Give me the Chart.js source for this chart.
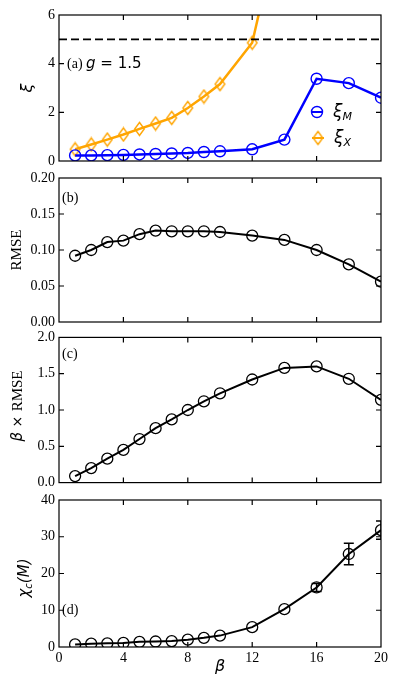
<!DOCTYPE html>
<html>
<head>
<meta charset="utf-8">
<script src="https://cdn.jsdelivr.net/npm/chart.js@4.4.0/dist/chart.umd.min.js"></script>
<style>
  html, body { margin: 0; padding: 0; background: #fff; }
  body { width: 398px; height: 685px; position: relative; overflow: hidden; }
  canvas { position: absolute; left: 0; }
</style>
</head>
<body>
<canvas id="panelA" width="398" height="175" style="top:0px"></canvas>
<canvas id="panelB" width="398" height="170" style="top:165px"></canvas>
<canvas id="panelC" width="398" height="170" style="top:325px"></canvas>
<canvas id="panelD" width="398" height="200" style="top:485px"></canvas>
<script>
// data
const betas = [1, 2, 3, 4, 5, 6, 7, 8, 9, 10, 12, 14, 16, 18, 20];
const xiM = [0.23, 0.23, 0.24, 0.25, 0.27, 0.29, 0.31, 0.33, 0.37, 0.40, 0.48, 0.88, 3.38, 3.20, 2.60];
const xiXBetas = [1, 2, 3, 4, 5, 6, 7, 8, 9, 10, 12, 14];
const xiX = [0.48, 0.68, 0.88, 1.09, 1.32, 1.54, 1.77, 2.18, 2.65, 3.16, 4.86, 10.6];
const xiLimit = 5;
const rmse = [0.092, 0.100, 0.111, 0.113, 0.122, 0.127, 0.126, 0.126, 0.126, 0.125, 0.120, 0.114, 0.100, 0.080, 0.056];
const betaRmse = [0.09, 0.20, 0.33, 0.45, 0.60, 0.75, 0.87, 1.00, 1.12, 1.23, 1.42, 1.58, 1.60, 1.43, 1.14];
const chiC = [0.7, 0.9, 1.0, 1.1, 1.4, 1.5, 1.6, 2.0, 2.5, 3.1, 5.4, 10.3, 16.2, 25.3, 31.8];
const chiErr = [0, 0, 0, 0, 0, 0, 0, 0, 0, 0, 0, 0, 1.1, 2.9, 2.5];
const xTicks = [0, 4, 8, 12, 16, 20];

const SERIF = 'Liberation Serif';
const SANS = 'DejaVu Sans';

Chart.defaults.font.family = SERIF;
Chart.defaults.font.size = 14;
Chart.defaults.color = '#000';

const pts = (xs, ys) => xs.map((x, i) => ({ x: x, y: ys[i] }));

// thin diamond marker like matplotlib 'd'
function diamond(color) {
    const c = document.createElement('canvas');
    c.width = 13; c.height = 16;
    const g = c.getContext('2d');
    g.strokeStyle = color;
    g.lineWidth = 1.4;
    g.beginPath();
    g.moveTo(6.5, 1.5); g.lineTo(11.3, 8); g.lineTo(6.5, 14.5); g.lineTo(1.7, 8);
    g.closePath();
    g.stroke();
    return c;
}
const orangeDiamond = diamond('#ffa500');

// text made of several runs (fonts / sub-scripts)
function richText(ctx, parts, x, y, opt) {
    opt = opt || {};
    ctx.save();
    ctx.translate(x, y);
    if (opt.rotate) ctx.rotate(-Math.PI / 2);
    ctx.fillStyle = '#000';
    ctx.textBaseline = 'alphabetic';
    let w = 0;
    parts.forEach(p => { ctx.font = p.font; w += ctx.measureText(p.text).width; });
    let cx = opt.center ? -w / 2 : 0;
    parts.forEach(p => {
        ctx.font = p.font;
        ctx.fillText(p.text, cx, p.dy || 0);
        cx += ctx.measureText(p.text).width;
    });
    ctx.restore();
}

const decorPlugin = {
    id: 'decor',
    afterDatasetsDraw(chart) {
        const { ctx, chartArea: a, scales: { x, y } } = chart;
        // error bars
        ctx.save();
        ctx.beginPath();
        ctx.rect(a.left, a.top, a.width, a.height);
        ctx.clip();
        chart.data.datasets.forEach(ds => {
            if (!ds.errors) return;
            ctx.strokeStyle = ds.borderColor;
            ctx.lineWidth = 1.5;
            ds.data.forEach((p, i) => {
                const e = ds.errors[i];
                if (!e) return;
                const px = x.getPixelForValue(p.x);
                const top = y.getPixelForValue(p.y + e);
                const bot = y.getPixelForValue(p.y - e);
                ctx.beginPath();
                ctx.moveTo(px, top); ctx.lineTo(px, bot);
                ctx.moveTo(px - 5, top); ctx.lineTo(px + 5, top);
                ctx.moveTo(px - 5, bot); ctx.lineTo(px + 5, bot);
                ctx.stroke();
            });
        });
        ctx.restore();
    },
    afterDraw(chart, args, opts) {
        const { ctx, chartArea: a, scales: { x, y } } = chart;
        const off = chart.canvas.offsetTop;   // texts are given in page coordinates
        ctx.save();
        ctx.strokeStyle = '#000';
        ctx.lineWidth = 1.2;
        ctx.strokeRect(a.left, a.top, a.width, a.height);
        // inward ticks on all four sides
        ctx.beginPath();
        x.ticks.forEach(t => {
            const px = x.getPixelForValue(t.value);
            if (px <= a.left + 1 || px >= a.right - 1) return;
            ctx.moveTo(px, a.bottom); ctx.lineTo(px, a.bottom - 5);
            ctx.moveTo(px, a.top); ctx.lineTo(px, a.top + 5);
        });
        y.ticks.forEach(t => {
            const py = y.getPixelForValue(t.value);
            if (py <= a.top + 1 || py >= a.bottom - 1) return;
            ctx.moveTo(a.left, py); ctx.lineTo(a.left + 5, py);
            ctx.moveTo(a.right, py); ctx.lineTo(a.right - 5, py);
        });
        ctx.stroke();

        // legend
        (opts.legend || []).forEach(item => {
            const ds = chart.data.datasets[item.dataset];
            const ly = item.y - off;
            ctx.strokeStyle = ds.borderColor;
            ctx.lineWidth = 2;
            ctx.beginPath();
            ctx.moveTo(item.x - 6, ly); ctx.lineTo(item.x + 6, ly);
            ctx.stroke();
            if (ds.pointStyle && typeof ds.pointStyle === 'object') {
                ctx.drawImage(ds.pointStyle, item.x - ds.pointStyle.width / 2, ly - ds.pointStyle.height / 2);
            } else {
                ctx.lineWidth = ds.pointBorderWidth;
                ctx.beginPath();
                ctx.arc(item.x, ly, ds.pointRadius, 0, Math.PI * 2);
                ctx.stroke();
            }
            richText(ctx, item.parts, item.x + 16, ly + 5);
        });
        ctx.restore();

        (opts.texts || []).forEach(t => richText(ctx, t.parts, t.x, t.y - off, t));
    }
};

function makePanel(id, cfg) {
    return new Chart(document.getElementById(id), {
        type: 'line',
        data: { datasets: cfg.datasets },
        options: {
            responsive: false,
            animation: false,
            devicePixelRatio: 1,
            layout: { padding: { top: cfg.padTop, right: 17, left: 0, bottom: 0 } },
            plugins: {
                legend: { display: false },
                tooltip: { enabled: false },
                decor: cfg.decor
            },
            scales: {
                x: {
                    type: 'linear', min: 0, max: 20,
                    afterBuildTicks: s => { s.ticks = xTicks.map(v => ({ value: v })); },
                    ticks: { display: !!cfg.showX, padding: 3, maxRotation: 0, autoSkip: false, font: { size: 14 } },
                    grid: { display: false, drawTicks: false },
                    border: { display: false },
                    afterFit: s => { s.height = cfg.xHeight; }
                },
                y: {
                    min: cfg.yMin, max: cfg.yMax,
                    afterBuildTicks: s => { s.ticks = cfg.yTicks.map(v => ({ value: v })); },
                    ticks: { padding: 4, font: { size: 14 }, callback: cfg.yFmt },
                    grid: { display: false, drawTicks: false },
                    border: { display: false },
                    afterFit: s => { s.width = 59; }
                }
            }
        },
        plugins: [decorPlugin]
    });
}

function blackSeries(ys, extra) {
    return Object.assign({
        data: pts(betas, ys),
        borderColor: '#000',
        borderWidth: 2,
        pointRadius: 5.5,
        pointBorderWidth: 1.3,
        pointBorderColor: '#000',
        pointBackgroundColor: 'rgba(0,0,0,0)',
        tension: 0,
        clip: 0
    }, extra || {});
}

// (a) correlation lengths
makePanel('panelA', {
    padTop: 15, xHeight: 14,
    yMin: 0, yMax: 6, yTicks: [0, 2, 4, 6], yFmt: v => String(v),
    datasets: [
        {
            data: [{ x: 0, y: xiLimit }, { x: 20, y: xiLimit }],
            borderColor: '#000', borderWidth: 1.8, borderDash: [8, 4],
            pointRadius: 0, clip: 0
        },
        {
            data: pts(betas, xiM),
            borderColor: '#0000ff', borderWidth: 2.5,
            pointRadius: 5.5, pointBorderWidth: 1.4,
            pointBorderColor: '#0000ff', pointBackgroundColor: 'rgba(0,0,0,0)',
            tension: 0, clip: 0
        },
        {
            data: pts(xiXBetas, xiX),
            borderColor: '#ffa500', borderWidth: 2.5,
            pointStyle: orangeDiamond, pointRadius: 5,
            tension: 0, clip: 0
        }
    ],
    decor: {
        legend: [
            { dataset: 1, x: 317, y: 112, parts: [
                { text: 'ξ', font: 'italic 17px ' + SANS },
                { text: 'M', font: 'italic 11px ' + SANS, dy: 3 }] },
            { dataset: 2, x: 318, y: 138, parts: [
                { text: 'ξ', font: 'italic 17px ' + SANS },
                { text: 'X', font: 'italic 11px ' + SANS, dy: 3 }] }
        ],
        texts: [
            { x: 67, y: 68, parts: [
                { text: '(a) ', font: '14px ' + SERIF },
                { text: 'g', font: 'italic 15px ' + SANS },
                { text: ' = 1.5', font: '15px ' + SANS }] },
            { x: 28, y: 88, rotate: true, center: true, parts: [
                { text: 'ξ', font: 'italic 16px ' + SANS, dy: 4 }] }
        ]
    }
});

// (b) RMSE
makePanel('panelB', {
    padTop: 13, xHeight: 13,
    yMin: 0, yMax: 0.2, yTicks: [0, 0.05, 0.1, 0.15, 0.2], yFmt: v => v.toFixed(2),
    datasets: [blackSeries(rmse)],
    decor: {
        texts: [
            { x: 62, y: 202, parts: [{ text: '(b)', font: '14px ' + SERIF }] },
            { x: 16, y: 250, rotate: true, center: true, parts: [
                { text: 'RMSE', font: '15px ' + SERIF, dy: 5 }] }
        ]
    }
});

// (c) beta x RMSE
makePanel('panelC', {
    padTop: 12, xHeight: 10,
    yMin: 0, yMax: 2, yTicks: [0, 0.5, 1, 1.5, 2], yFmt: v => v.toFixed(1),
    datasets: [blackSeries(betaRmse)],
    decor: {
        texts: [
            { x: 62, y: 358, parts: [{ text: '(c)', font: '14px ' + SERIF }] },
            { x: 17, y: 406, rotate: true, center: true, parts: [
                { text: 'β', font: 'italic 15px ' + SANS, dy: 5 },
                { text: ' × ', font: '14px ' + SANS, dy: 5 },
                { text: 'RMSE', font: '15px ' + SERIF, dy: 5 }] }
        ]
    }
});

// (d) chi_c(M)
makePanel('panelD', {
    padTop: 15, xHeight: 38, showX: true,
    yMin: 0, yMax: 40, yTicks: [0, 10, 20, 30, 40], yFmt: v => String(v),
    datasets: [blackSeries(chiC, { errors: chiErr })],
    decor: {
        texts: [
            { x: 62, y: 614, parts: [{ text: '(d)', font: '14px ' + SERIF }] },
            { x: 25, y: 578, rotate: true, center: true, parts: [
                { text: 'χ', font: 'italic 15px ' + SANS, dy: 4 },
                { text: 'c', font: 'italic 10px ' + SANS, dy: 7 },
                { text: '(M)', font: 'italic 15px ' + SANS, dy: 4 }] },
            { x: 220, y: 671, center: true, parts: [
                { text: 'β', font: 'italic 16px ' + SANS }] }
        ]
    }
});
</script>
</body>
</html>
